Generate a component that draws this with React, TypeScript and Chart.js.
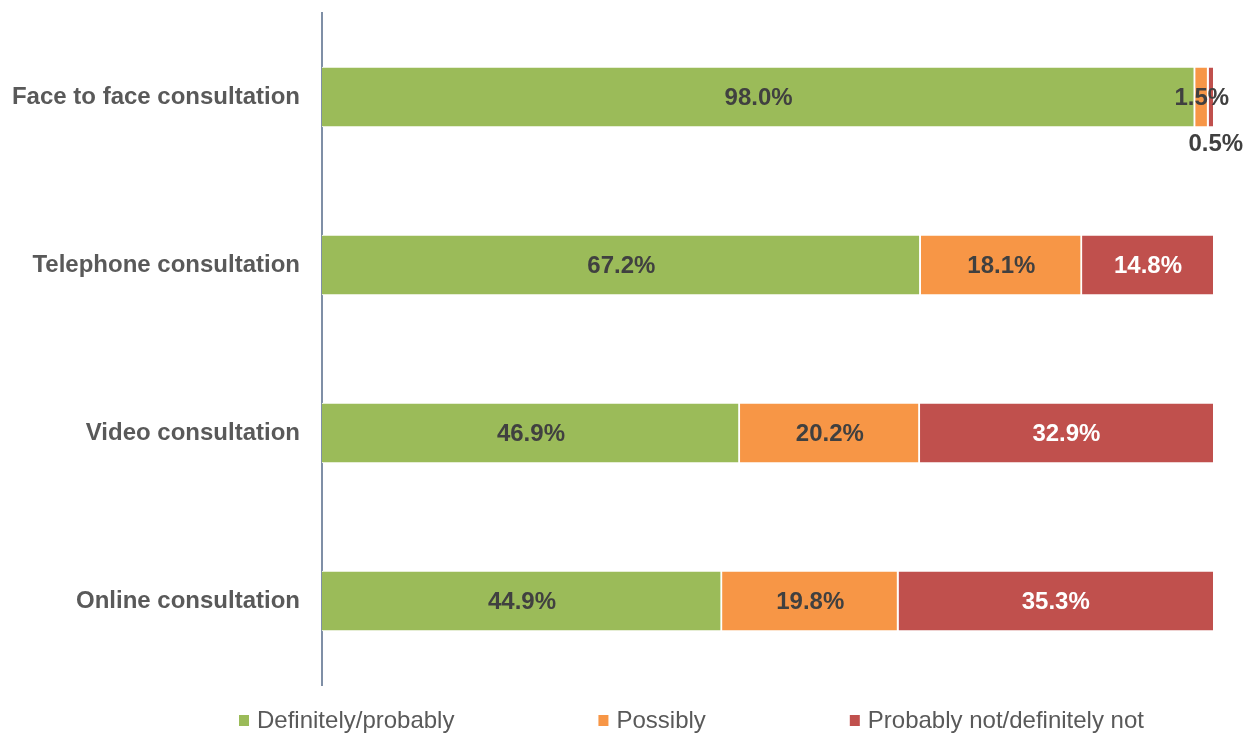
import React, { useEffect, useRef } from "react";
import { Chart, registerables } from "chart.js";

Chart.register(...registerables);

const categories = [
  "Face to face consultation",
  "Telephone consultation",
  "Video consultation",
  "Online consultation",
];
const seriesNames = ["Definitely/probably", "Possibly", "Probably not/definitely not"];
const definitelyValues = [98.0, 67.2, 46.9, 44.9];
const possiblyValues = [1.5, 18.1, 20.2, 19.8];
const notValues = [0.5, 14.8, 32.9, 35.3];
const seriesColors = ["#9BBB59", "#F79646", "#C0504D"];
const labelColors = ["#404040", "#404040", "#FFFFFF"];

const FONT = "'Liberation Sans', Arial, sans-serif";

const dataLabelPlugin = {
  id: "dataLabels",
  afterDatasetsDraw(chart: any) {
    const ctx = chart.ctx;
    ctx.save();
    ctx.font = `bold 24px ${FONT}`;
    ctx.textAlign = "center";
    ctx.textBaseline = "middle";
    chart.data.datasets.forEach((ds: any, di: number) => {
      const meta = chart.getDatasetMeta(di);
      meta.data.forEach((el: any, i: number) => {
        const v = ds.data[i];
        const p = el.getProps(["x", "y", "base", "height"], true);
        const cx = (p.x + p.base) / 2;
        const text = v.toFixed(1) + "%";
        if (v < 1) {
          ctx.fillStyle = "#404040";
          ctx.fillText(text, cx + 5, p.y + p.height / 2 + 17);
        } else {
          ctx.fillStyle = labelColors[di];
          ctx.fillText(text, cx, p.y + 1);
        }
      });
    });
    ctx.restore();
  },
};

const legendPlugin = {
  id: "customLegend",
  afterDraw(chart: any) {
    const ctx = chart.ctx;
    ctx.save();
    ctx.font = `24px ${FONT}`;
    ctx.textBaseline = "middle";
    ctx.textAlign = "left";
    const cy = 721;
    const gap = 144;
    let x = 239;
    seriesNames.forEach((name, i) => {
      ctx.fillStyle = seriesColors[i];
      ctx.fillRect(x, cy - 6, 10, 11);
      ctx.fillStyle = "#595959";
      ctx.fillText(name, x + 18, cy);
      x += 18 + ctx.measureText(name).width + gap;
    });
    ctx.restore();
  },
};

export default function App() {
  const ref = useRef<HTMLCanvasElement>(null);
  useEffect(() => {
    if (!ref.current) return;
    const values = [definitelyValues, possiblyValues, notValues];
    const chart = new Chart(ref.current, {
      type: "bar",
      data: {
        labels: categories,
        datasets: seriesNames.map((name, i) => ({
          label: name,
          data: values[i],
          backgroundColor: seriesColors[i],
          borderColor: "#FFFFFF",
          borderWidth: { top: 1, bottom: 1, left: 0, right: i < seriesNames.length - 1 ? 2 : 0 },
          borderSkipped: false,
          barThickness: 60,
        })),
      },
      options: {
        indexAxis: "y",
        responsive: false,
        animation: false,
        layout: { padding: { top: 13, bottom: 49, right: 34, left: 0 } },
        plugins: {
          legend: { display: false },
          tooltip: { enabled: false },
          title: { display: false },
        },
        scales: {
          x: { display: false, stacked: true, min: 0, max: 100 },
          y: {
            stacked: true,
            grid: { display: false, drawTicks: false },
            border: { display: true, color: "#7F8FA6", width: 2 },
            ticks: {
              padding: 22,
              color: "#595959",
              font: { family: FONT, size: 24, weight: "bold" },
            },
            afterFit(scale: any) {
              scale.width = 322;
              scale.paddingTop = 0;
              scale.paddingBottom = 0;
            },
          },
        },
      } as any,
      plugins: [dataLabelPlugin, legendPlugin],
    });
    return () => chart.destroy();
  }, []);
  return (
    <div style={{ position: "fixed", left: 0, top: 0, width: 1247, height: 734, background: "#fff" }}>
      <canvas ref={ref} width={1247} height={734} style={{ display: "block" }} />
    </div>
  );
}
